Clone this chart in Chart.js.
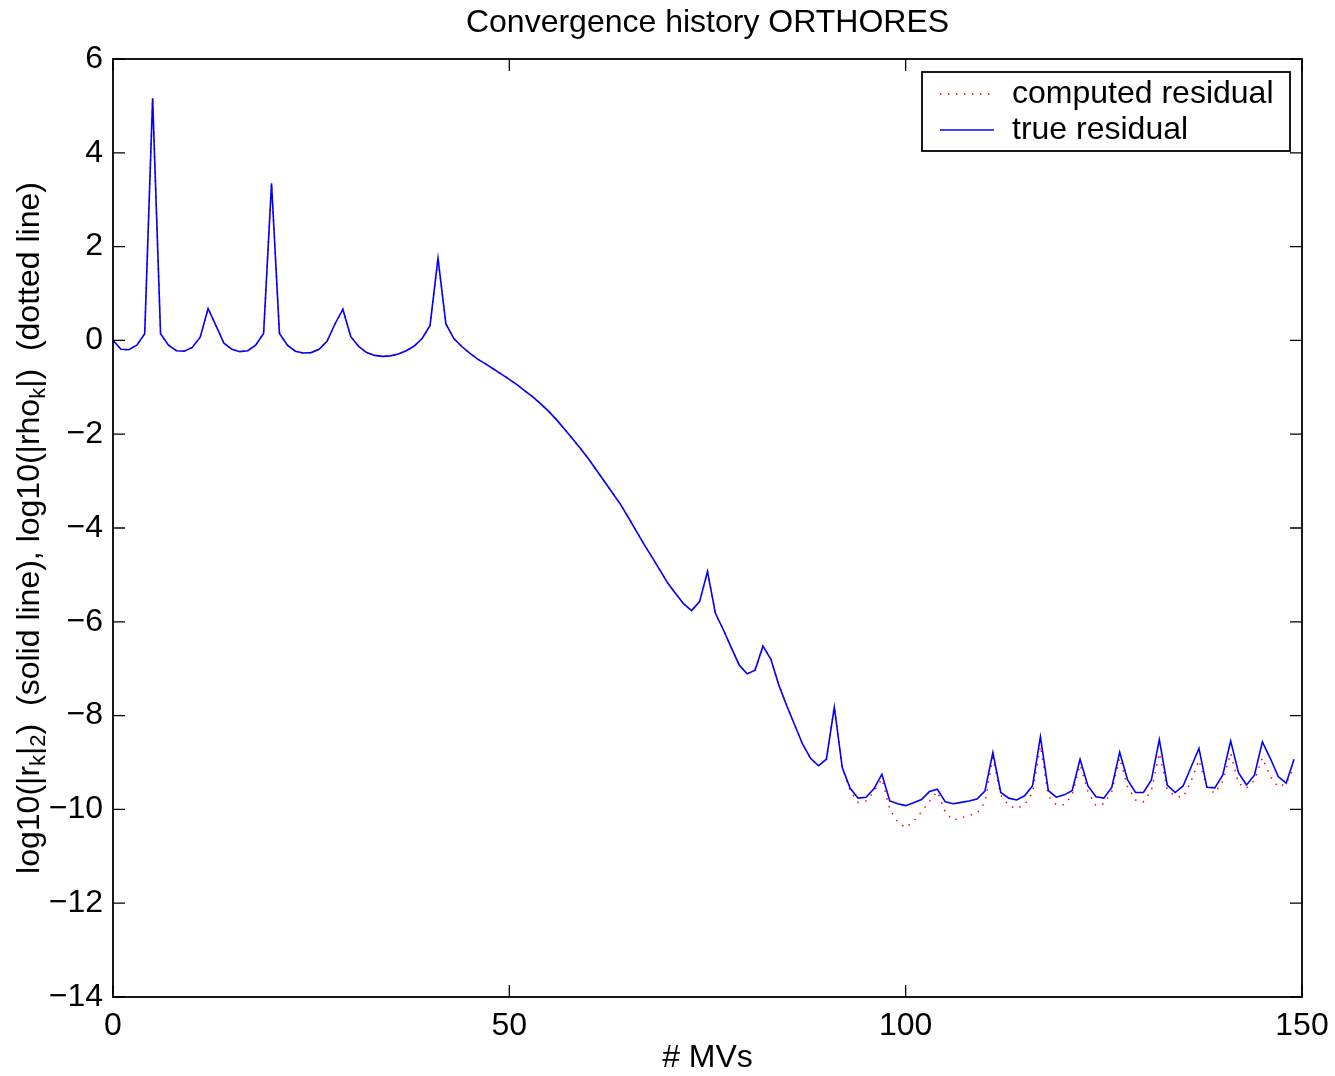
<!DOCTYPE html>
<html>
<head>
<meta charset="utf-8">
<script src="https://cdn.jsdelivr.net/npm/chart.js/dist/chart.umd.js"></script>
<style>
  body { margin: 0; background: #fff; }
  #wrap { width: 1335px; height: 1076px; position: relative; }
</style>
</head>
<body>
<div id="wrap"><canvas id="myChart"></canvas></div>
<script>
// iteration counts (# MVs), one value per iteration 0..149
const mvs = Array.from({ length: 150 }, (_, i) => i);

// log10 of the true residual norm (solid blue line)
const trueResidual = [
  0.00, -0.19, -0.20, -0.10, 0.14, 5.16, 0.14, -0.10, -0.22, -0.23,
  -0.15, 0.07, 0.68, 0.31, -0.06, -0.19, -0.24, -0.22, -0.10, 0.15,
  3.35, 0.15, -0.10, -0.23, -0.27, -0.26, -0.19, -0.02, 0.35, 0.66,
  0.08, -0.13, -0.26, -0.32, -0.34, -0.33, -0.29, -0.22, -0.12, 0.04,
  0.32, 1.75, 0.35, 0.04, -0.13, -0.27, -0.40, -0.50, -0.61, -0.72,
  -0.83, -0.95, -1.08, -1.21, -1.36, -1.52, -1.70, -1.90, -2.10, -2.31,
  -2.53, -2.77, -3.01, -3.25, -3.49, -3.77, -4.06, -4.35, -4.62, -4.90,
  -5.18, -5.40, -5.62, -5.76, -5.57, -4.93, -5.82, -6.17, -6.55, -6.92,
  -7.11, -7.03, -6.52, -6.80, -7.35, -7.79, -8.20, -8.61, -8.91, -9.07,
  -8.93, -7.82, -9.11, -9.55, -9.76, -9.74, -9.56, -9.25, -9.82, -9.88,
  -9.92, -9.86, -9.79, -9.62, -9.57, -9.84, -9.88, -9.85, -9.82, -9.78,
  -9.61, -8.79, -9.64, -9.76, -9.80, -9.71, -9.50, -8.45, -9.60, -9.74,
  -9.69, -9.60, -8.93, -9.50, -9.73, -9.76, -9.53, -8.78, -9.37, -9.64,
  -9.64, -9.37, -8.51, -9.48, -9.64, -9.50, -9.10, -8.70, -9.53, -9.54,
  -9.27, -8.54, -9.22, -9.48, -9.27, -8.56, -8.91, -9.30, -9.44, -8.93
];

// log10 |rho_k| (dotted red line); same as the true residual up to iteration 91,
// these are the values from iteration 92 on
const computedTail = [
  -9.12, -9.60, -9.85, -9.82, -9.62, -9.35, -10.00, -10.27,
  -10.39, -10.25, -10.05, -9.83, -9.62, -10.06, -10.23, -10.18, -10.13, -10.08,
  -9.85, -8.90, -9.70, -9.92, -9.98, -9.90, -9.65, -8.65, -9.72, -9.90,
  -9.90, -9.70, -9.05, -9.62, -9.92, -9.88, -9.62, -8.90, -9.52, -9.80,
  -9.84, -9.60, -8.80, -9.58, -9.72, -9.74, -9.40, -8.95, -9.52, -9.66,
  -9.40, -8.80, -9.45, -9.55, -9.38, -8.90, -9.30, -9.52, -9.45, -9.10
];
const computedResidual = trueResidual.slice(0, 92).concat(computedTail);

const xTicks = [0, 50, 100, 150];
const yTicks = [-14, -12, -10, -8, -6, -4, -2, 0, 2, 4, 6];

const FONT = '"Liberation Sans", Arial, Helvetica, sans-serif';

// MATLAB style frame: full box, inward ticks, title, axis labels, legend
const framePlugin = {
  id: 'frame',
  afterDraw(chart) {
    const { ctx, chartArea: a, scales } = chart;
    ctx.save();
    ctx.strokeStyle = '#000';
    ctx.lineWidth = 1.8;
    ctx.strokeRect(a.left, a.top, a.right - a.left, a.bottom - a.top);

    const tl = 12;
    ctx.lineWidth = 1.3;
    ctx.beginPath();
    xTicks.forEach(v => {
      const px = scales.x.getPixelForValue(v);
      ctx.moveTo(px, a.bottom); ctx.lineTo(px, a.bottom - tl);
      ctx.moveTo(px, a.top); ctx.lineTo(px, a.top + tl);
    });
    yTicks.forEach(v => {
      const py = scales.y.getPixelForValue(v);
      ctx.moveTo(a.left, py); ctx.lineTo(a.left + tl, py);
      ctx.moveTo(a.right, py); ctx.lineTo(a.right - tl, py);
    });
    ctx.stroke();

    ctx.fillStyle = '#000';
    ctx.textAlign = 'center';
    ctx.textBaseline = 'middle';
    ctx.font = '32px ' + FONT;
    ctx.fillText('Convergence history ORTHORES', (a.left + a.right) / 2, 23);
    ctx.fillText('# MVs', (a.left + a.right) / 2, 1058);

    // y title with subscripts
    const parts = [
      ['log10(|r', false], ['k', true], ['|', false], ['2', true],
      [')  (solid line), log10(|rho', false], ['k', true], ['|)  (dotted line)', false]
    ];
    const big = '32px ' + FONT, small = '22px ' + FONT;
    let total = 0;
    parts.forEach(([t, sub]) => { ctx.font = sub ? small : big; total += ctx.measureText(t).width; });
    ctx.translate(30, (a.top + a.bottom) / 2);
    ctx.rotate(-Math.PI / 2);
    ctx.textAlign = 'left';
    let x = -total / 2;
    parts.forEach(([t, sub]) => {
      ctx.font = sub ? small : big;
      ctx.fillText(t, x, sub ? 9 : 0);
      x += ctx.measureText(t).width;
    });
    ctx.restore();

    // legend box
    ctx.save();
    const lx = 922, ly = 72, lw = 368, lh = 79;
    ctx.fillStyle = '#fff';
    ctx.fillRect(lx, ly, lw, lh);
    ctx.strokeStyle = '#000';
    ctx.lineWidth = 1.8;
    ctx.strokeRect(lx, ly, lw, lh);
    ctx.font = '32px ' + FONT;
    ctx.textBaseline = 'middle';
    chart.data.datasets.forEach((ds, i) => {
      const y = 94 + i * 36;
      ctx.beginPath();
      ctx.strokeStyle = ds.borderColor;
      ctx.lineWidth = ds.borderWidth;
      ctx.setLineDash(ds.borderDash || []);
      ctx.moveTo(940, y); ctx.lineTo(994, y);
      ctx.stroke();
      ctx.setLineDash([]);
      ctx.fillStyle = '#000';
      ctx.fillText(ds.label, 1012, y);
    });
    ctx.restore();
  }
};

new Chart(document.getElementById('myChart'), {
  type: 'line',
  data: {
    labels: mvs,
    datasets: [{
      label: 'computed residual',
      data: computedResidual,
      borderColor: '#ff0000',
      borderWidth: 1.5,
      borderDash: [1.5, 6.5],
      pointRadius: 0,
      tension: 0,
      order: 2
    }, {
      label: 'true residual',
      data: trueResidual,
      borderColor: '#0000ff',
      borderWidth: 1.6,
      pointRadius: 0,
      tension: 0,
      order: 1
    }]
  },
  options: {
    responsive: true,
    maintainAspectRatio: false,
    animation: false,
    layout: { padding: { top: 59, right: 33, left: 0, bottom: 0 } },
    plugins: { legend: { display: false }, tooltip: { enabled: false } },
    scales: {
      x: {
        type: 'linear',
        min: 0, max: 150,
        afterFit(scale) { scale.height = 79; scale.paddingLeft = 0; scale.paddingRight = 0; },
        afterBuildTicks(scale) { scale.ticks = xTicks.map(v => ({ value: v })); },
        grid: { display: false, drawTicks: false },
        border: { display: false },
        ticks: { color: '#000', padding: 10, maxRotation: 0, font: { size: 32, family: FONT } }
      },
      y: {
        min: -14, max: 6,
        afterFit(scale) { scale.width = 113; scale.paddingTop = 0; scale.paddingBottom = 0; },
        afterBuildTicks(scale) { scale.ticks = yTicks.map(v => ({ value: v })); },
        grid: { display: false, drawTicks: false },
        border: { display: false },
        ticks: {
          color: '#000', padding: 10,
          font: { size: 32, family: FONT },
          callback: v => String(v).replace('-', '\u2212')
        }
      }
    }
  },
  plugins: [framePlugin]
});
</script>
</body>
</html>
